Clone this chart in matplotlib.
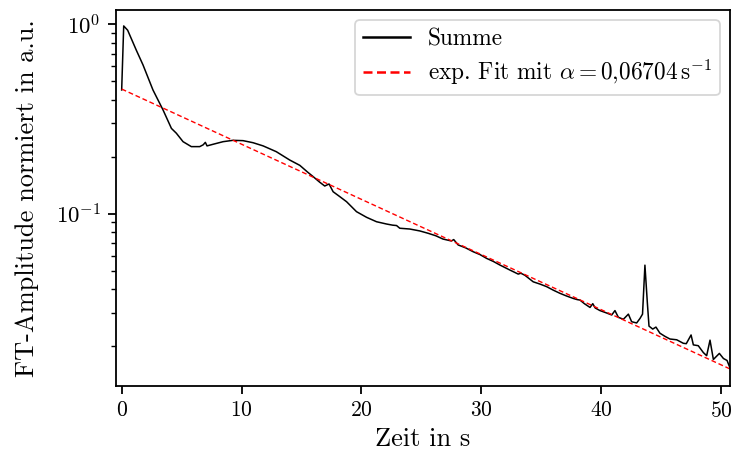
import numpy as np
import matplotlib
matplotlib.use("Agg")
import matplotlib.pyplot as plt

plt.rcParams.update({
    "font.family": "serif",
    "font.serif": ["cmr10", "DejaVu Serif"],
    "mathtext.fontset": "cm",
    "axes.formatter.use_mathtext": True,
    "axes.unicode_minus": False,
})

# Summe
t_sum = [0.0, 0.17, 0.5, 1.22, 1.78, 2.61, 3.45, 4.15, 4.56, 5.12, 5.81, 6.51, 6.8, 6.98,
         7.12, 7.62, 8.46, 9.29, 10.13, 10.96, 11.8, 12.9, 14.02, 14.86, 15.5, 15.97,
         16.5, 16.94, 17.3, 17.64, 18.2, 18.76, 19.59, 20.43, 21.26, 22.1, 22.6, 22.93,
         23.2, 24.04, 24.87, 25.57, 26.2, 26.8, 27.5, 27.7, 28.07, 28.7, 29.32, 29.9,
         30.44, 31.0, 31.55, 32.39, 33.08, 33.3, 33.64, 34.33, 34.9, 35.45, 36.0, 36.56,
         37.1, 37.67, 38.0, 38.23, 38.6, 39.07, 39.3, 39.5, 39.9, 40.4, 40.88, 41.15,
         41.43, 41.85, 42.27, 42.54, 42.96, 43.24, 43.45, 43.65, 43.85, 43.99, 44.3,
         44.57, 44.9, 45.33, 45.74, 46.3, 46.85, 47.1, 47.5, 47.69, 48.1, 48.52, 48.8,
         49.08, 49.36, 49.86, 50.2, 50.5, 50.72]
a_sum = [0.45, 0.98, 0.93, 0.73, 0.61, 0.45, 0.353, 0.282, 0.266, 0.24, 0.226, 0.226, 0.231, 0.238,
         0.228, 0.2325, 0.24, 0.244, 0.243, 0.237, 0.228, 0.2125, 0.192, 0.180, 0.166, 0.157,
         0.147, 0.140, 0.1435, 0.1306, 0.123, 0.1157, 0.1025, 0.0957, 0.0907, 0.0882, 0.0870, 0.0866,
         0.0838, 0.083, 0.0811, 0.0788, 0.0765, 0.0735, 0.0718, 0.073, 0.0684, 0.0660, 0.063, 0.0608,
         0.0581, 0.0560, 0.0536, 0.0504, 0.048, 0.0485, 0.0473, 0.0437, 0.0425, 0.0412, 0.0395, 0.038,
         0.0368, 0.0357, 0.0352, 0.035, 0.0335, 0.0320, 0.0335, 0.0318, 0.0308, 0.0300, 0.0292, 0.0308,
         0.0284, 0.0277, 0.0295, 0.0269, 0.0265, 0.028, 0.0295, 0.0535, 0.034, 0.0255, 0.0246,
         0.0252, 0.0234, 0.0225, 0.0218, 0.0216, 0.0207, 0.0206, 0.0229, 0.0203, 0.0201, 0.0185, 0.0178,
         0.0215, 0.0170, 0.0183, 0.0172, 0.0168, 0.0155]

# exponential fit parameters
fit_A = 0.455
fit_alpha = 0.06704
fit_t = np.linspace(0.0, 50.75, 200)
fit_a = fit_A * np.exp(-fit_alpha * fit_t)

fig = plt.figure(figsize=(7.34, 4.59), dpi=100)
ax = fig.add_axes([0.1576, 0.1597, 0.8370, 0.8192])

ax.plot(t_sum, a_sum, color="black", lw=1.1, label="Summe")
ax.plot(fit_t, fit_a, color="red", lw=1.0, ls=(0, (3.5, 2.0)),
        label=r"exp. Fit mit $\alpha = 0{,}06704\,\mathrm{s}^{-1}$")

ax.set_yscale("log")
ax.set_xlim(-0.5, 50.75)
ax.set_ylim(0.01236, 1.194)
ax.set_xticks([0, 10, 20, 30, 40, 50])

for s in ax.spines.values():
    s.set_linewidth(1.3)
ax.tick_params(which="major", length=5.8, width=1.3, labelsize=15.5, pad=5)
ax.tick_params(axis="y", which="major", labelsize=16.5)
ax.tick_params(which="minor", length=3.3, width=1.0)

ax.set_xlabel("Zeit in s", fontsize=19, labelpad=5)
ax.set_ylabel("FT-Amplitude normiert in a.u.", fontsize=19, labelpad=12)

leg = ax.legend(loc="upper right", fontsize=16.8, handlelength=2.0,
                labelspacing=0.3, borderpad=0.35, handletextpad=0.75,
                borderaxespad=0.45)
leg.get_frame().set_linewidth(1.3)
for ln in leg.get_lines():
    ln.set_linewidth(1.8)
leg.get_lines()[1].set_dashes([3.6, 1.8])

fig.savefig("out.png", dpi=100)
